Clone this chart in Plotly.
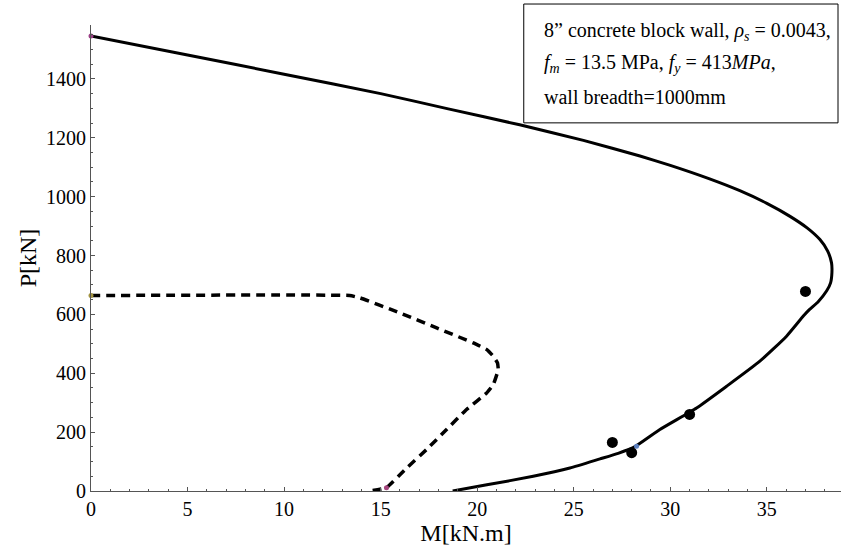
import plotly.graph_objects as go

# Interaction curve (solid), bottom -> top
curve_M = [18.73, 20.5, 22.9, 24.8, 26.36, 27.3, 28.1, 29.46, 31.36, 32.92, 34.64, 36.02,
           36.9, 37.2, 37.67, 38.1, 38.3, 38.37, 38.35, 38.15, 37.75, 37.1, 36.2, 35.0,
           33.6, 32.0, 30.0, 28.43, 25.5, 22.2, 18.5, 15.0, 10.0, 5.0, 0.0]
curve_P = [0, 21, 50, 78, 109, 128, 148, 209, 282, 356, 441, 526,
           595, 616, 644, 680, 707, 742, 775, 815, 854, 893, 933, 977,
           1020, 1061, 1106, 1138, 1191, 1244, 1298, 1350, 1416, 1481, 1546]

# Design curve (dashed)
design_M = [0.0, 13.4, 13.93, 16.0, 17.9, 19.8, 20.5, 20.83, 21.05, 21.09, 20.83, 20.49,
            19.45, 18.4, 17.38, 16.3, 15.3, 14.45]
design_P = [664, 664, 656, 605, 554, 503, 480, 458, 435, 412, 361, 333,
            277, 208, 141, 75, 11, 0]

# Test results
test_M = [27.0, 28.0, 31.0, 37.0]
test_P = [165, 130, 260, 678]

# Small marker points
mark_M = [0.0, 0.0, 15.3, 28.25]
mark_P = [1546, 664, 11, 152]
mark_colors = ["#9b3f86", "#a39442", "#a5457e", "#5b7fbf"]

x_ticks = [0, 5, 10, 15, 20, 25, 30, 35]
y_ticks = [0, 200, 400, 600, 800, 1000, 1200, 1400]

fig = go.Figure()
fig.add_trace(go.Scatter(x=curve_M, y=curve_P, mode="lines",
                         line=dict(color="black", width=3, shape="spline", smoothing=0.5),
                         cliponaxis=False, hoverinfo="skip"))
fig.add_trace(go.Scatter(x=design_M, y=design_P, mode="lines",
                         line=dict(color="black", width=3.5, dash="9px,6px",
                                   shape="spline", smoothing=0.3),
                         cliponaxis=False, hoverinfo="skip"))
fig.add_trace(go.Scatter(x=test_M, y=test_P, mode="markers",
                         marker=dict(color="black", size=11), cliponaxis=False))
fig.add_trace(go.Scatter(x=mark_M, y=mark_P, mode="markers",
                         marker=dict(color=mark_colors, size=5), cliponaxis=False))

serif = "Liberation Serif"
axis_common = dict(showline=True, linecolor="#555555", linewidth=1,
                   showgrid=False, zeroline=False, ticks="inside", ticklen=4,
                   tickcolor="#555555", tickwidth=1,
                   tickfont=dict(family=serif, size=20, color="black"))

fig.update_layout(
    width=841, height=548,
    margin=dict(l=91, r=0, t=25, b=57),
    plot_bgcolor="white", paper_bgcolor="white",
    font=dict(family=serif, size=20, color="black"),
    showlegend=False,
    xaxis=dict(range=[0, 38.84], tickvals=x_ticks,
               minor=dict(dtick=1, ticks="inside", ticklen=2, tickcolor="#555555"),
               title=dict(text="M[kN.m]", font=dict(family=serif, size=24, color="black"), standoff=0),
               **axis_common),
    yaxis=dict(range=[0, 1583], tickvals=y_ticks,
               minor=dict(dtick=50, ticks="inside", ticklen=2, tickcolor="#555555"),
               title=dict(text="P[kN]", font=dict(family=serif, size=24, color="black"), standoff=2),
               **axis_common),
)

# Legend-like text box
fig.add_shape(type="rect", xref="paper", yref="paper",
              x0=0.577, x1=0.996, y0=0.79, y1=1.045,
              line=dict(color="black", width=1), fillcolor="white")
box_lines = [
    "8\u201d concrete block wall, <i>\u03c1</i><sub><i>s</i></sub> = 0.0043,",
    "<i>f</i><sub><i>m</i></sub> = 13.5 MPa, <i>f</i><sub><i>y</i></sub> = 413<i>MPa</i>,",
    "wall breadth=1000mm",
]
line_y = [0.985, 0.918, 0.846]
for txt, yy in zip(box_lines, line_y):
    fig.add_annotation(xref="paper", yref="paper", x=0.601, y=yy, text=txt,
                       showarrow=False, xanchor="left", yanchor="middle",
                       font=dict(family=serif, size=20, color="black"))

fig.write_html("out.html")
